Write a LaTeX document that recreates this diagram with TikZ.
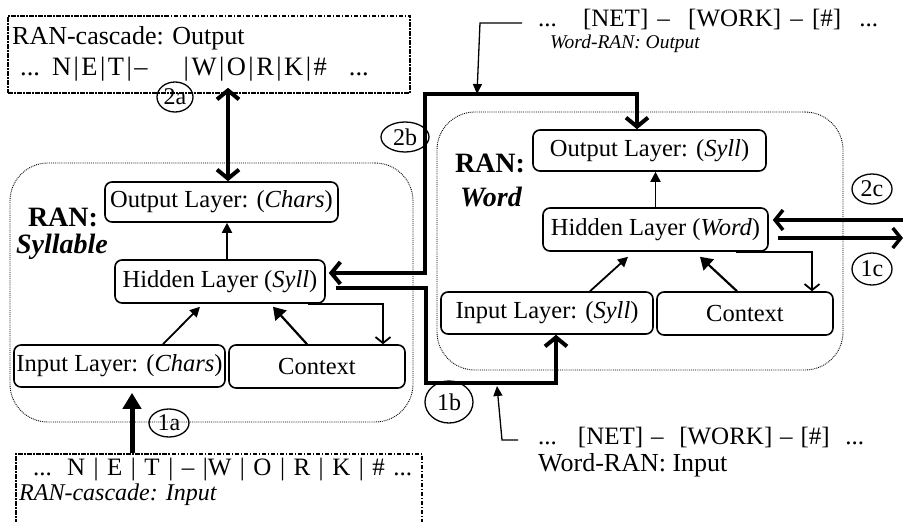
\documentclass[tikz,border=0pt]{standalone}
\usepackage{fontspec}
\setmainfont{Liberation Serif}
\usetikzlibrary{arrows.meta,shapes.geometric,calc}
\newcommand\fsz[1]{\fontsize{#1pt}{#1pt}\selectfont}
\newcommand\barsep{\kern2.5pt|\kern2.5pt}

\tikzset{
  layer/.style={draw, rounded corners=7pt, line width=1.6pt, inner sep=0pt, font=\fsz{24.5}},
  ranbox/.style={draw, densely dotted, line width=0.9pt, rounded corners=38pt, inner sep=0pt},
  cascbox/.style={draw, line width=1.6pt, dash pattern=on 4.5pt off 1.5pt on 1.5pt off 1.5pt, inner sep=0pt},
  tag/.style={draw, ellipse, line width=1.3pt, inner sep=0pt, font=\fsz{24}},
  plain/.style={inner sep=0pt, anchor=west},
  thinarr/.style={line width=1.8pt, -{Triangle[length=10pt,width=10pt]}},
  ctxarr/.style={line width=2.2pt, -{Triangle[length=12pt,width=15pt]}},
  fbarr/.style={line width=1.8pt, -{Straight Barb[length=6pt,width=15pt]}},
  heavyarr/.style={line width=4pt, -{Straight Barb[length=9pt,width=22pt]}},
  heavytwo/.style={line width=4pt, {Straight Barb[length=9pt,width=22pt]}-{Straight Barb[length=9pt,width=22pt]}},
  sidearr/.style={line width=3.5pt, -{Straight Barb[length=8pt,width=20pt]}},
  uparr/.style={line width=5pt, -{Triangle[length=16pt,width=18pt]}},
  ptr/.style={line width=1.3pt, -{Triangle[length=10pt,width=9pt]}},
}

\begin{document}
\begin{tikzpicture}[x=1pt,y=-1pt]
\useasboundingbox (0,0) rectangle (903,522);
\clip (0,0) rectangle (903,522);

% recurrent networks (dotted frames)
\node[ranbox, minimum width=403pt, minimum height=259pt] (synRAN) at (211.5,292.5) {};
\node[ranbox, minimum width=406pt, minimum height=258pt] (wRAN) at (640,241) {};

% cascade input / output frames
\node[cascbox, minimum width=402pt, minimum height=77pt] (topBox) at (209,54.5) {};
\node[cascbox, minimum width=406pt, minimum height=86pt] (botBox) at (219,497) {};

\node[plain, font=\fsz{26}] (topHead) at (12,38) {RAN-cascade: Output};
\node[plain, font=\fsz{26.5}] (topSeq) at (20,69)
  {...\kern12pt N\barsep E\barsep T\barsep –\kern36pt|\kern2.5pt W\barsep O\barsep R\barsep K\barsep\#\kern22pt...};
\node[plain, font=\fsz{25}] (botSeq) at (33,470) {\makebox[379pt][s]{... N | E | T | – |W | O | R | K | \# ...}};
\node[plain, font=\fsz{24}\itshape] (botHead) at (19,495) {RAN-cascade: Input};

% word level streams
\node[plain, font=\fsz{25}] (topNet) at (538,19) {\makebox[340pt][s]{... \ [NET] – \ [WORK] – [\#] \ ...}};
\node[plain, font=\fsz{19.5}\itshape] (topWord) at (550,44) {Word-RAN: Output};
\node[plain, font=\fsz{25}] (botNet) at (538,437) {\makebox[326pt][s]{... \ [NET] – \ [WORK] – [\#] \ ...}};
\node[plain, font=\fsz{26}] (botWord) at (538,465) {Word-RAN: Input};

% network titles
\node[font=\fsz{28}\bfseries, inner sep=0pt] (synT1) at (63,217) {RAN:};
\node[font=\fsz{28}\bfseries\itshape, inner sep=0pt] (synT2) at (62,247) {Syllable};
\node[font=\fsz{28}\bfseries, inner sep=0pt] (wT1) at (490,163) {RAN:};
\node[font=\fsz{28}\bfseries\itshape, inner sep=0pt] (wT2) at (491,197) {Word};

% syllable network layers
\node[layer, minimum width=233pt, minimum height=40pt] (synOut) at (221.5,202) {Output Layer: (\textit{Chars})};
\node[layer, minimum width=210pt, minimum height=43pt] (synHid) at (220,281.5) {Hidden Layer (\textit{Syll})};
\node[layer, minimum width=211pt, minimum height=42pt] (synIn) at (119.5,366) {Input Layer: (\textit{Chars})};
\node[layer, minimum width=176pt, minimum height=43pt] (synCtx) at (317,366.5) {Context};

% word network layers
\node[layer, minimum width=233pt, minimum height=41pt] (wOut) at (649.5,150.5) {Output Layer: (\textit{Syll})};
\node[layer, minimum width=225pt, minimum height=43pt] (wHid) at (655.5,229.5) {Hidden Layer (\textit{Word})};
\node[layer, minimum width=212pt, minimum height=42pt] (wIn) at (547,313) {Input Layer: (\textit{Syll})};
\node[layer, minimum width=176pt, minimum height=43pt] (wCtx) at (745,313.5) {Context};

% step markers
\node[tag, minimum width=36pt, minimum height=30pt] (c2a) at (175,97) {2a};
\node[tag, minimum width=48pt, minimum height=30pt] (c2b) at (405,137) {2b};
\node[tag, minimum width=40pt, minimum height=28pt] (c1a) at (169,423) {1a};
\node[tag, minimum width=48pt, minimum height=42pt] (c1b) at (449,402) {1b};
\node[tag, minimum width=40pt, minimum height=30pt] (c2c) at (872,189) {2c};
\node[tag, minimum width=40pt, minimum height=32pt] (c1c) at (872,269) {1c};

% syllable network internals
\draw[thinarr] ([xshift=7pt]synHid.north) -- ([xshift=7pt]synHid.north |- synOut.south);
\draw[thinarr] ([xshift=43.5pt]synIn.north) -- ([xshift=-20pt,yshift=-3pt]synHid.south);
\draw[ctxarr] ([xshift=-10pt]synCtx.north) -- ([xshift=53pt,yshift=-3pt]synHid.south);
\draw[fbarr] ([xshift=-18pt]synHid.south east) -| ([xshift=66pt]synCtx.north);

% word network internals
\draw[thinarr] (wHid.north) -- (wHid.north |- wOut.south);
\draw[thinarr] ([xshift=43pt]wIn.north) -- ([xshift=-27.5pt,yshift=-5pt]wHid.south);
\draw[ctxarr] ([xshift=-8pt]wCtx.north) -- ([xshift=44.5pt,yshift=-5pt]wHid.south);
\draw[fbarr] ([xshift=-33pt]wHid.south east) -| ([xshift=67pt]wCtx.north);

% cascade links
\draw[heavytwo] ([xshift=6.5pt]synOut.north) -- ([xshift=6.5pt,yshift=6pt]synOut.north |- topBox.south);
\draw[uparr] ([xshift=12.5pt]synIn.south |- botBox.north) -- ([xshift=12.5pt,yshift=-5pt]synIn.south);

\coordinate (k2b) at (425,94);
\draw[heavytwo] ([xshift=-12.5pt]wOut.north) |- (k2b) |- ([xshift=3pt,yshift=8.5pt]synHid.east);

\coordinate (k1b) at (426,383);
\draw[heavyarr] ([xshift=10pt,yshift=-6.5pt]synHid.east) -| (k1b) -| ([xshift=9pt]wIn.south);

\coordinate (e2c) at (903,220);
\coordinate (e1c) at (903,238);
\draw[sidearr] (e2c) -- ([xshift=4pt]wHid.east |- e2c);
\draw[sidearr] ([xshift=9pt]wHid.east |- e1c) -- (e1c);

% pointers from the word streams
\coordinate (pT) at (480,23);
\draw[ptr] ([xshift=-16pt]topNet.west |- pT) -- (pT) -- ([xshift=-3pt]pT |- k2b);
\coordinate (pB) at (502,440);
\draw[ptr] ([xshift=-20pt]botNet.west |- pB) -- (pB) -- ([xshift=-5pt,yshift=-3pt]pB |- k1b);
\end{tikzpicture}
\end{document}
